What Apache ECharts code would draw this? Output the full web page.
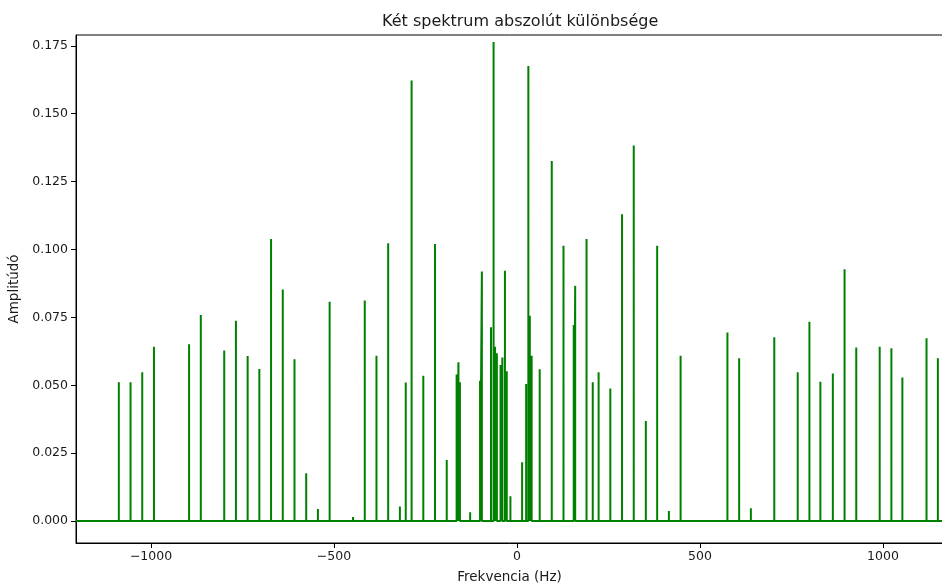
<!DOCTYPE html>
<html>
<head>
<meta charset="utf-8">
<title>Két spektrum abszolút különbsége</title>
<script src="https://cdn.jsdelivr.net/npm/echarts@6/dist/echarts.min.js"></script>
<style>
  html, body { margin: 0; padding: 0; background: #fff; }
  #chart { width: 942px; height: 585px; }
</style>
</head>
<body>
<div id="chart"></div>
<script>
// Peak frequencies (Hz) and the absolute amplitude difference at each peak
const peakFreqs = [
  -1088, -1056, -1024, -992, -896, -864, -800, -768, -736, -704,
  -672, -640, -608, -576, -544, -512, -448, -416, -384, -352,
  -320, -304, -288, -256, -224, -192, -165, -160, -156, -128,
  -101, -96, -71, -64, -60, -55, -45, -40, -33, -28,
  -18, 14, 25, 31, 35, 40, 62, 95, 127, 155,
  159, 190, 207, 223, 255, 287, 319, 352, 383, 415,
  447, 575, 607, 639, 703, 767, 799, 829, 863, 895,
  927, 991, 1023, 1053, 1119, 1150
];
const peakAmps = [
  0.0511, 0.0511, 0.0548, 0.0642, 0.0651, 0.0759, 0.0628, 0.0738, 0.0608, 0.0560,
  0.1039, 0.0853, 0.0596, 0.0176, 0.0044, 0.0808, 0.0015, 0.0812, 0.0609, 0.1023,
  0.0053, 0.0510, 0.1622, 0.0535, 0.1020, 0.0225, 0.0540, 0.0585, 0.0511, 0.0032,
  0.0517, 0.0919, 0.0714, 0.1764, 0.0642, 0.0618, 0.0575, 0.0602, 0.0922, 0.0552,
  0.0091, 0.0216, 0.0505, 0.1676, 0.0756, 0.0609, 0.0559, 0.1326, 0.1014, 0.0722,
  0.0866, 0.1039, 0.0511, 0.0548, 0.0488, 0.1130, 0.1383, 0.0368, 0.1014, 0.0037,
  0.0609, 0.0694, 0.0599, 0.0047, 0.0677, 0.0548, 0.0734, 0.0513, 0.0543, 0.0927,
  0.0639, 0.0642, 0.0636, 0.0529, 0.0673, 0.0599
];

// Axis ranges and tick values
const freqRange = [-1205, 1164];
const ampRange = [-0.0081, 0.179];
const freqTicks = [-1000, -500, 0, 500, 1000];
const ampTicks = [0, 0.025, 0.05, 0.075, 0.1, 0.125, 0.15, 0.175];

// Build the spectrum line: flat zero baseline with a vertical spike at each peak
const lineData = [[freqRange[0], 0]];
peakFreqs.forEach((f, i) => {
  lineData.push([f, 0], [f, peakAmps[i]], [f, 0]);
});
lineData.push([freqRange[1], 0]);

const FONT = '"DejaVu Sans", sans-serif';
const textColor = '#1a1a1a';

const chart = echarts.init(document.getElementById('chart'), null, { renderer: 'canvas' });
chart.setOption({
  animation: false,
  backgroundColor: '#ffffff',
  title: {
    text: 'Két spektrum abszolút különbsége',
    left: 377,
    top: 9,
    textStyle: { fontFamily: FONT, fontSize: 16, fontWeight: 'normal', color: textColor }
  },
  grid: {
    left: 76, right: -1, top: 35, bottom: 42,
    outerBoundsMode: 'none',
    containLabel: false,
    show: true, borderColor: '#000', borderWidth: 1
  },
  xAxis: {
    type: 'value',
    min: freqRange[0], max: freqRange[1],
    name: 'Frekvencia (Hz)',
    nameLocation: 'middle',
    nameGap: 27,
    nameTextStyle: { fontFamily: FONT, fontSize: 13.5, color: textColor },
    axisLine: { show: true, onZero: false, lineStyle: { color: '#000', width: 1 } },
    axisTick: { show: true, inside: false, length: 5, customValues: freqTicks, lineStyle: { color: '#000' } },
    axisLabel: {
      customValues: freqTicks,
      margin: 7,
      fontFamily: FONT, fontSize: 12.5, color: textColor,
      formatter: v => (v < 0 ? '\u2212' + Math.abs(v) : String(v))
    },
    splitLine: { show: false }
  },
  yAxis: {
    type: 'value',
    min: ampRange[0], max: ampRange[1],
    name: 'Amplitúdó',
    nameLocation: 'middle',
    nameRotate: 90,
    nameGap: 52,
    nameTextStyle: { fontFamily: FONT, fontSize: 13.5, color: textColor },
    axisLine: { show: true, onZero: false, lineStyle: { color: '#000', width: 1 } },
    axisTick: { show: true, inside: false, length: 5, customValues: ampTicks, lineStyle: { color: '#000' } },
    axisLabel: {
      customValues: ampTicks,
      margin: 8,
      fontFamily: FONT, fontSize: 12.5, color: textColor,
      formatter: v => v.toFixed(3)
    },
    splitLine: { show: false }
  },
  series: [{
    type: 'line',
    data: lineData,
    showSymbol: false,
    symbol: 'none',
    lineStyle: { color: '#008000', width: 2 },
    itemStyle: { color: '#008000' },
    clip: true
  }]
});
</script>
</body>
</html>
